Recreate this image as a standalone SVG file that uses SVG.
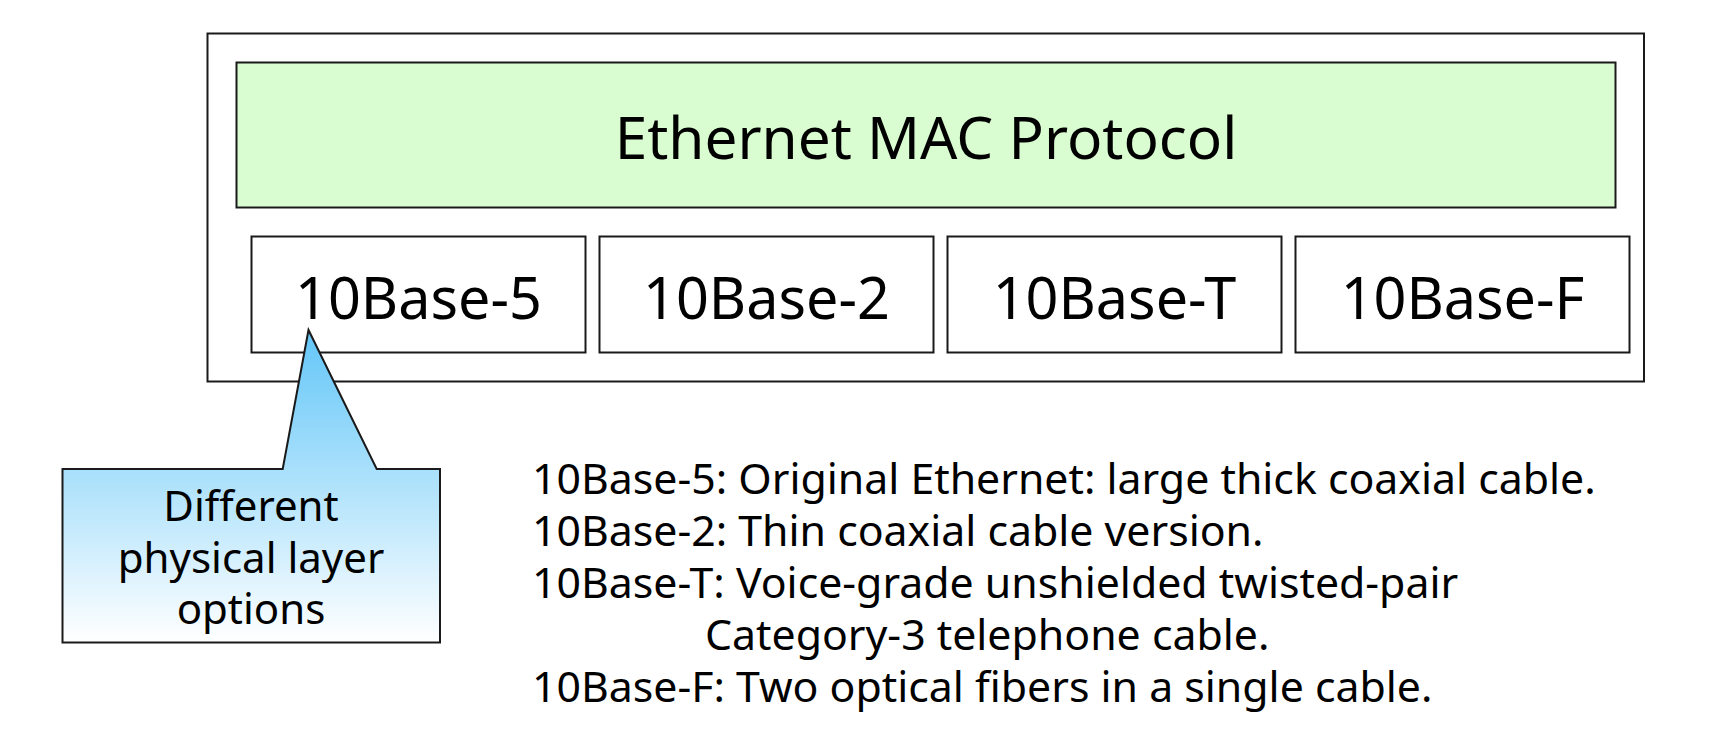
<svg xmlns="http://www.w3.org/2000/svg" width="1722" height="748" viewBox="0 0 1722 748">
<defs>
<linearGradient id="callGrad" x1="0" y1="0" x2="0" y2="1">
<stop offset="0" stop-color="#62c6f8"/>
<stop offset="1" stop-color="#ffffff"/>
</linearGradient>
<style>
.box{fill:#ffffff;stroke:#1a1a1a;stroke-width:2}
.mac{fill:#d9fdd0;stroke:#1a1a1a;stroke-width:2}
.t{font-family:"Noto Sans","Open Sans",sans-serif;fill:#000;text-anchor:middle}
.big{font-size:57.5px}
.call{font-size:42px}
.desc{font-family:"Noto Sans","Open Sans",sans-serif;fill:#000;font-size:42.8px}
</style>
</defs>
<rect width="1722" height="748" fill="#ffffff"/>
<g id="outer"><rect class="box" x="207.5" y="33.5" width="1436.5" height="348"/></g>
<g id="mac"><rect class="mac" x="236.5" y="62.5" width="1379" height="145"/>
<text class="t" x="926" y="159" font-size="58.5">Ethernet MAC Protocol</text></g>
<g id="b5"><rect class="box" x="251.5" y="236.5" width="334" height="116"/><text class="t big" x="418.5" y="319">10Base-5</text></g>
<g id="b2"><rect class="box" x="599.5" y="236.5" width="334" height="116"/><text class="t big" x="766.5" y="319">10Base-2</text></g>
<g id="bT"><rect class="box" x="947.5" y="236.5" width="334" height="116"/><text class="t big" x="1114.5" y="319">10Base-T</text></g>
<g id="bF"><rect class="box" x="1295.5" y="236.5" width="334" height="116"/><text class="t big" x="1462.5" y="319">10Base-F</text></g>
<g id="callout">
<path d="M62.5,469 L282.7,469 L308.5,330 L376.7,469 L440,469 L440,642.5 L62.5,642.5 Z" fill="url(#callGrad)" stroke="#1a1a1a" stroke-width="2" stroke-linejoin="miter"/>
<text class="t call" x="251" y="521">Different</text>
<text class="t call" x="251" y="572.5">physical layer</text>
<text class="t call" x="251" y="624">options</text>
</g>
<g id="description">
<text class="desc" x="532" y="494">10Base-5: Original Ethernet: large thick coaxial cable.</text>
<text class="desc" x="532" y="546">10Base-2: Thin coaxial cable version.</text>
<text class="desc" x="532" y="598">10Base-T: Voice-grade unshielded twisted-pair</text>
<text class="desc" x="705" y="650">Category-3 telephone cable.</text>
<text class="desc" x="532" y="702">10Base-F: Two optical fibers in a single cable.</text>
</g>
<g id="connectors"></g>
</svg>
